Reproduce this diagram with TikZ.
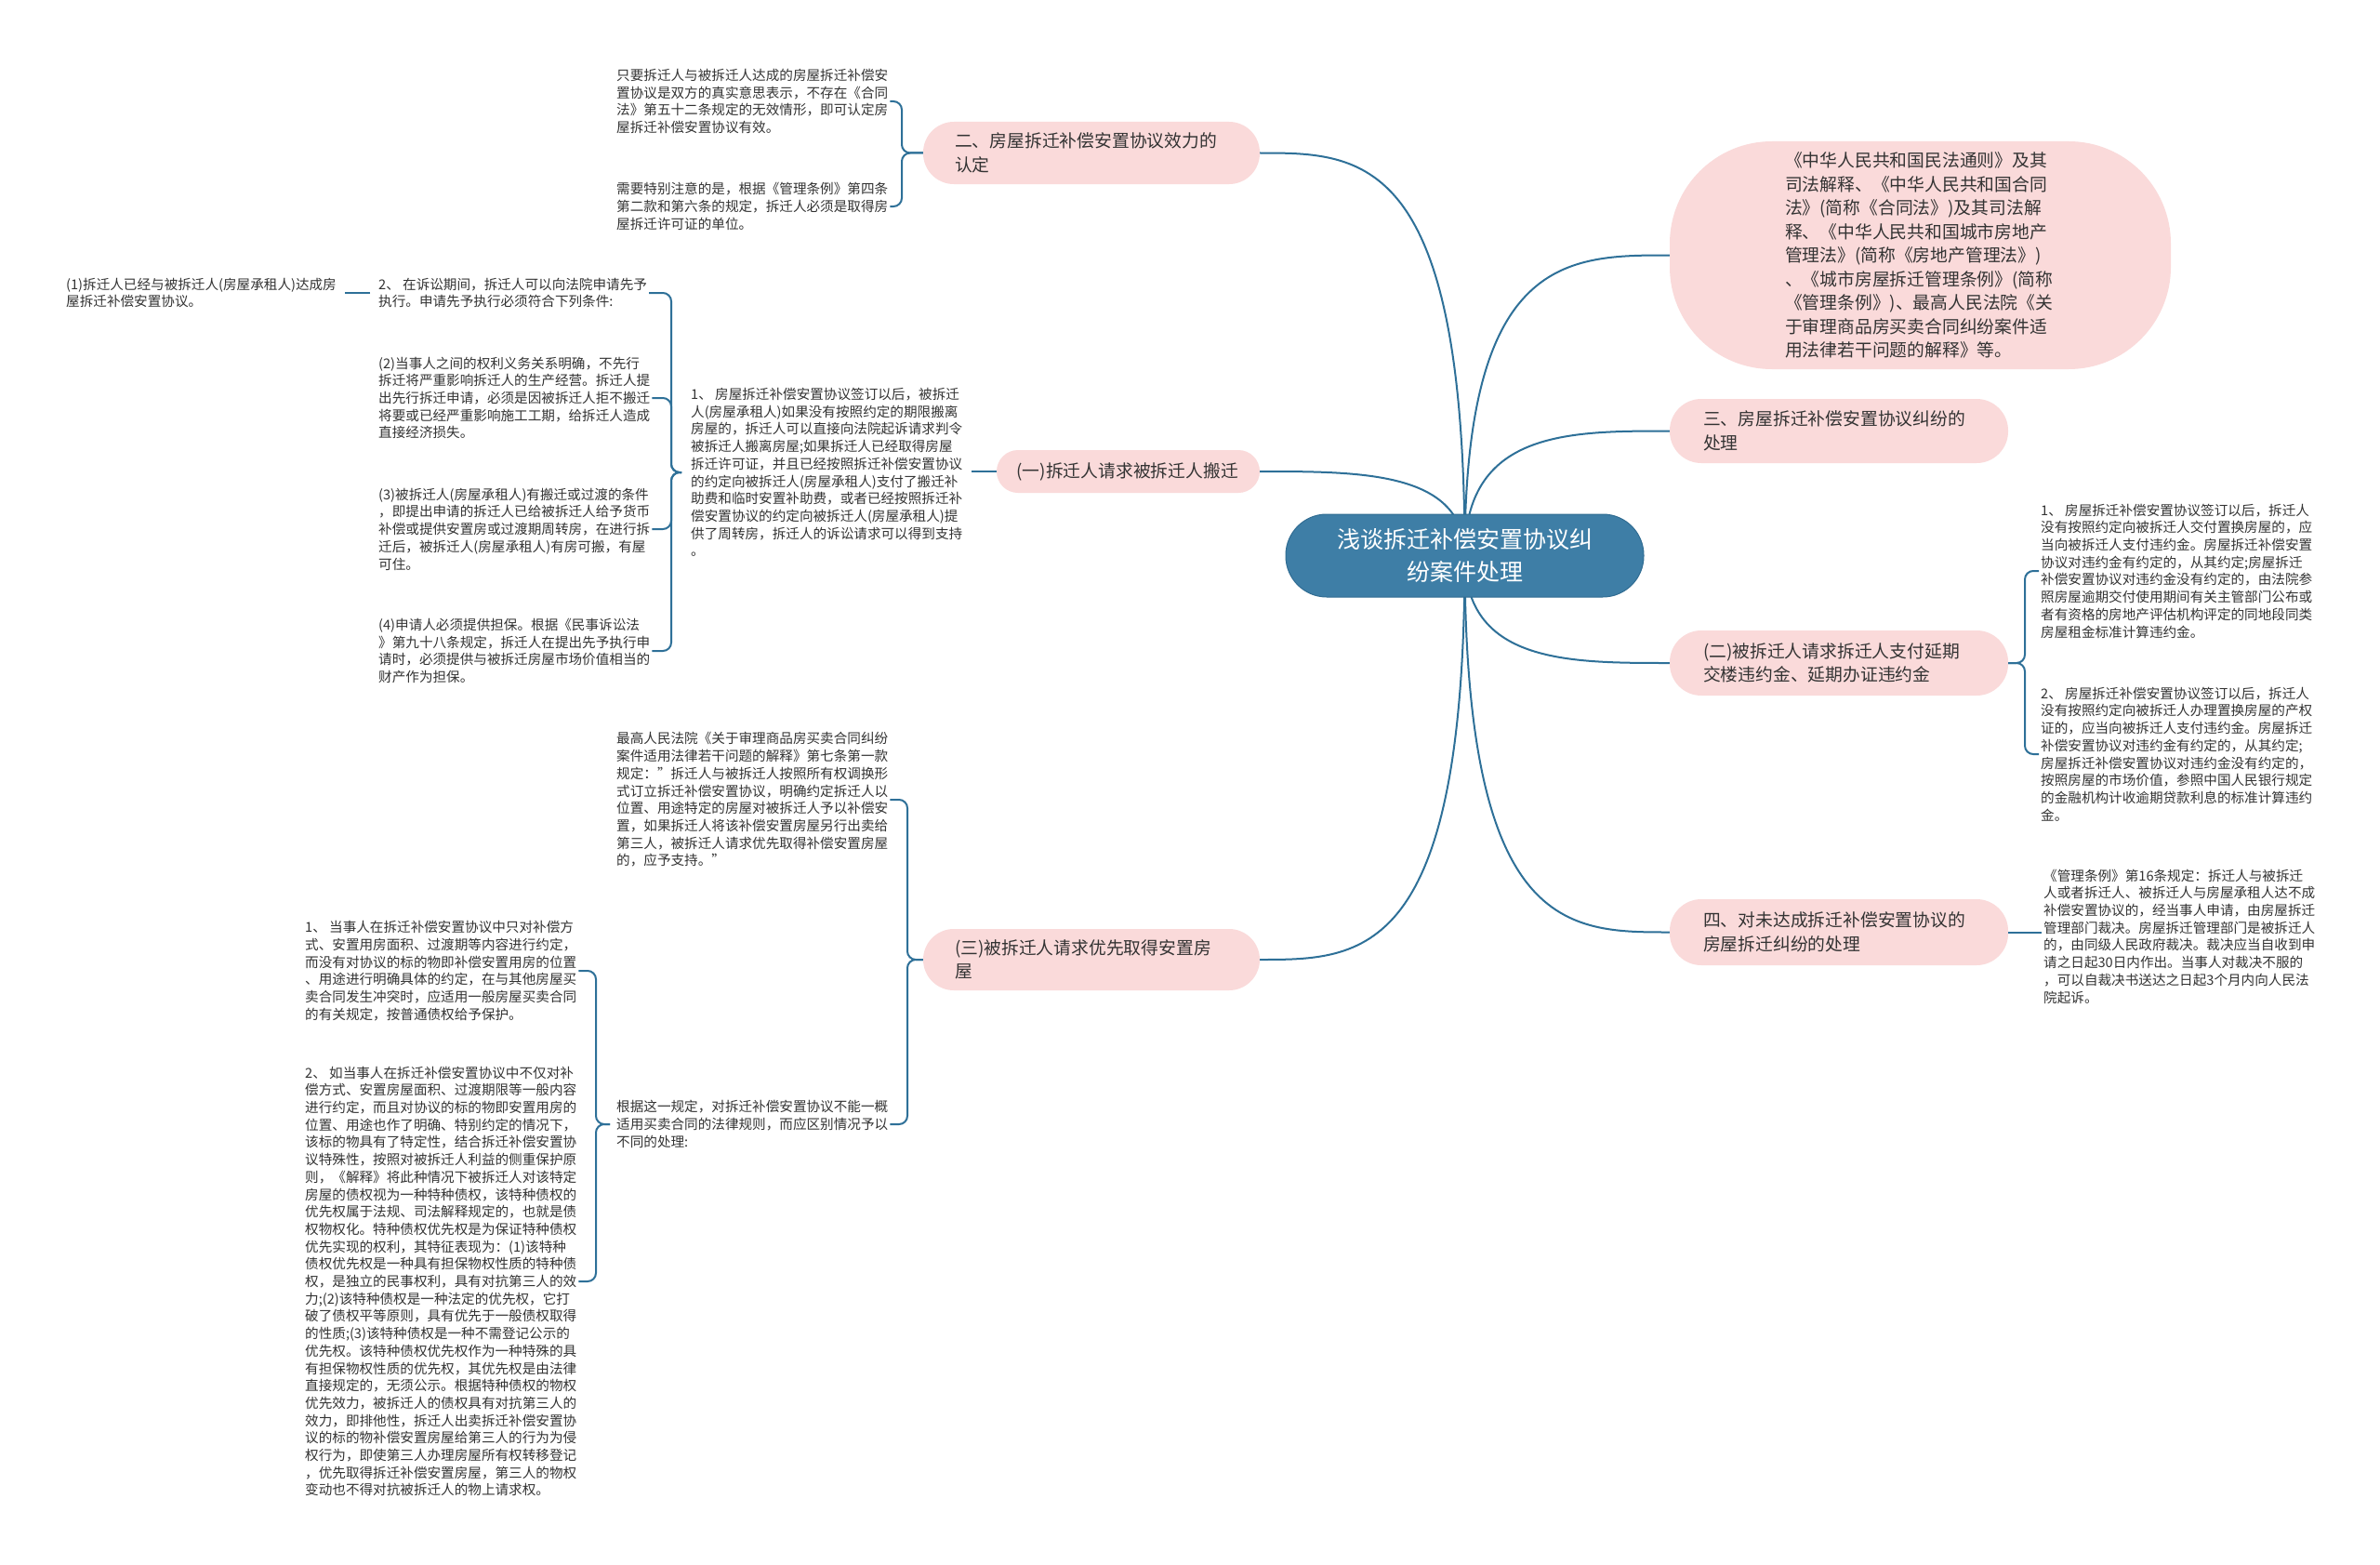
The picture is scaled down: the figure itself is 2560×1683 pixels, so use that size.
\documentclass[tikz,border=0pt]{standalone}
\usepackage{fontspec}
\setmainfont{Noto Sans CJK SC}
\usetikzlibrary{calc,backgrounds}
\definecolor{linecol}{RGB}{46,112,152}
\definecolor{hubfill}{RGB}{62,126,166}
\definecolor{hubdraw}{RGB}{48,108,146}
\definecolor{pinkfill}{RGB}{250,218,218}
\definecolor{txt}{RGB}{51,51,51}
\begin{document}
\begin{tikzpicture}[x=1pt,y=-1pt,
  conn/.style={draw=linecol, line width=2pt},
  brk/.style={conn, rounded corners=9pt},
  leaf/.style={font=\fontsize{14.6pt}{18.7pt}\selectfont, text=txt, align=left, inner xsep=2pt, inner ysep=0pt, anchor=west},
  pill/.style={fill=pinkfill, text=txt, font=\fontsize{18.8pt}{25.5pt}\selectfont, align=left, inner sep=0pt},
  hub/.style={fill=hubfill, draw=hubdraw, line width=1pt, text=white, font=\fontsize{25pt}{35pt}\selectfont, align=center, inner sep=0pt, minimum width=385pt, minimum height=89pt, rounded corners=44pt}
]
\useasboundingbox (0,0) rectangle (2560,1683);

% central topic
\node[hub] (hub) at (1575.5,597.5) {浅谈拆迁补偿安置协议纠\\纷案件处理};

% left main branches
\node[pill, minimum width=362pt, minimum height=67pt, text width=294pt, rounded corners=33pt] (b2) at (1174,164.5) {二、房屋拆迁补偿安置协议效力的\\认定};
\node[pill, minimum width=283pt, minimum height=46pt, text width=240pt, rounded corners=23pt] (b1) at (1213.5,507) {(一)拆迁人请求被拆迁人搬迁};
\node[pill, minimum width=362pt, minimum height=66pt, text width=294pt, rounded corners=33pt] (b3) at (1174,1032) {(三)被拆迁人请求优先取得安置房\\屋};

% right main branches
\node[pill, minimum width=539pt, minimum height=245pt, text width=291pt, rounded corners=110pt] (law) at (2065.5,274.5) {《中华人民共和国民法通则》及其\\司法解释、《中华人民共和国合同\\法》(简称《合同法》)及其司法解\\释、《中华人民共和国城市房地产\\管理法》(简称《房地产管理法》)\\、《城市房屋拆迁管理条例》(简称\\《管理条例》)、最高人民法院《关\\于审理商品房买卖合同纠纷案件适\\用法律若干问题的解释》等。};
\node[pill, minimum width=364pt, minimum height=69pt, text width=292pt, rounded corners=34pt] (b3r) at (1978,463.5) {三、房屋拆迁补偿安置协议纠纷的\\处理};
\node[pill, minimum width=364pt, minimum height=70pt, text width=292pt, rounded corners=34pt] (b22) at (1978,713) {(二)被拆迁人请求拆迁人支付延期\\交楼违约金、延期办证违约金};
\node[pill, minimum width=364pt, minimum height=71pt, text width=292pt, rounded corners=34pt] (b4) at (1978,1002.5) {四、对未达成拆迁补偿安置协议的\\房屋拆迁纠纷的处理};

% leaves of 二
\node[leaf] (L7) at (661,109) {只要拆迁人与被拆迁人达成的房屋拆迁补偿安\\置协议是双方的真实意思表示，不存在《合同\\法》第五十二条规定的无效情形，即可认定房\\屋拆迁补偿安置协议有效。};
\node[leaf] (L8) at (661,222) {需要特别注意的是，根据《管理条例》第四条\\第二款和第六条的规定，拆迁人必须是取得房\\屋拆迁许可证的单位。};

% leaves of (一)
\node[leaf] (L6) at (741,508) {1、 房屋拆迁补偿安置协议签订以后，被拆迁\\人(房屋承租人)如果没有按照约定的期限搬离\\房屋的，拆迁人可以直接向法院起诉请求判令\\被拆迁人搬离房屋;如果拆迁人已经取得房屋\\拆迁许可证，并且已经按照拆迁补偿安置协议\\的约定向被拆迁人(房屋承租人)支付了搬迁补\\助费和临时安置补助费，或者已经按照拆迁补\\偿安置协议的约定向被拆迁人(房屋承租人)提\\供了周转房，拆迁人的诉讼请求可以得到支持\\。};
\node[leaf] (L2) at (405,315) {2、 在诉讼期间，拆迁人可以向法院申请先予\\执行。申请先予执行必须符合下列条件:};
\node[leaf] (L1) at (69,315) {(1)拆迁人已经与被拆迁人(房屋承租人)达成房\\屋拆迁补偿安置协议。};
\node[leaf] (L3) at (405,428) {(2)当事人之间的权利义务关系明确，不先行\\拆迁将严重影响拆迁人的生产经营。拆迁人提\\出先行拆迁申请，必须是因被拆迁人拒不搬迁\\将要或已经严重影响施工工期，给拆迁人造成\\直接经济损失。};
\node[leaf] (L4) at (405,569) {(3)被拆迁人(房屋承租人)有搬迁或过渡的条件\\，即提出申请的拆迁人已给被拆迁人给予货币\\补偿或提供安置房或过渡期周转房，在进行拆\\迁后，被拆迁人(房屋承租人)有房可搬，有屋\\可住。};
\node[leaf] (L5) at (405,700) {(4)申请人必须提供担保。根据《民事诉讼法\\》第九十八条规定，拆迁人在提出先予执行申\\请时，必须提供与被拆迁房屋市场价值相当的\\财产作为担保。};

% leaves of (三)
\node[leaf] (L9) at (661,860) {最高人民法院《关于审理商品房买卖合同纠纷\\案件适用法律若干问题的解释》第七条第一款\\规定："拆迁人与被拆迁人按照所有权调换形\\式订立拆迁补偿安置协议，明确约定拆迁人以\\位置、用途特定的房屋对被拆迁人予以补偿安\\置，如果拆迁人将该补偿安置房屋另行出卖给\\第三人，被拆迁人请求优先取得补偿安置房屋\\的，应予支持。"};
\node[leaf] (L10) at (661,1209) {根据这一规定，对拆迁补偿安置协议不能一概\\适用买卖合同的法律规则，而应区别情况予以\\不同的处理:};
\node[leaf] (L11) at (326,1044) {1、 当事人在拆迁补偿安置协议中只对补偿方\\式、安置用房面积、过渡期等内容进行约定，\\而没有对协议的标的物即补偿安置用房的位置\\、用途进行明确具体的约定，在与其他房屋买\\卖合同发生冲突时，应适用一般房屋买卖合同\\的有关规定，按普通债权给予保护。};
\node[leaf] (L12) at (326,1378) {2、 如当事人在拆迁补偿安置协议中不仅对补\\偿方式、安置房屋面积、过渡期限等一般内容\\进行约定，而且对协议的标的物即安置用房的\\位置、用途也作了明确、特别约定的情况下，\\该标的物具有了特定性，结合拆迁补偿安置协\\议特殊性，按照对被拆迁人利益的侧重保护原\\则，《解释》将此种情况下被拆迁人对该特定\\房屋的债权视为一种特种债权，该特种债权的\\优先权属于法规、司法解释规定的，也就是债\\权物权化。特种债权优先权是为保证特种债权\\优先实现的权利，其特征表现为：(1)该特种\\债权优先权是一种具有担保物权性质的特种债\\权，是独立的民事权利，具有对抗第三人的效\\力;(2)该特种债权是一种法定的优先权，它打\\破了债权平等原则，具有优先于一般债权取得\\的性质;(3)该特种债权是一种不需登记公示的\\优先权。该特种债权优先权作为一种特殊的具\\有担保物权性质的优先权，其优先权是由法律\\直接规定的，无须公示。根据特种债权的物权\\优先效力，被拆迁人的债权具有对抗第三人的\\效力，即排他性，拆迁人出卖拆迁补偿安置协\\议的标的物补偿安置房屋给第三人的行为为侵\\权行为，即使第三人办理房屋所有权转移登记\\，优先取得拆迁补偿安置房屋，第三人的物权\\变动也不得对抗被拆迁人的物上请求权。};

% leaves of right side
\node[leaf] (R1) at (2193,614) {1、 房屋拆迁补偿安置协议签订以后，拆迁人\\没有按照约定向被拆迁人交付置换房屋的，应\\当向被拆迁人支付违约金。房屋拆迁补偿安置\\协议对违约金有约定的，从其约定;房屋拆迁\\补偿安置协议对违约金没有约定的，由法院参\\照房屋逾期交付使用期间有关主管部门公布或\\者有资格的房地产评估机构评定的同地段同类\\房屋租金标准计算违约金。};
\node[leaf] (R2) at (2193,811) {2、 房屋拆迁补偿安置协议签订以后，拆迁人\\没有按照约定向被拆迁人办理置换房屋的产权\\证的，应当向被拆迁人支付违约金。房屋拆迁\\补偿安置协议对违约金有约定的，从其约定;\\房屋拆迁补偿安置协议对违约金没有约定的，\\按照房屋的市场价值，参照中国人民银行规定\\的金融机构计收逾期贷款利息的标准计算违约\\金。};
\node[leaf] (R3) at (2196,1007) {《管理条例》第16条规定：拆迁人与被拆迁\\人或者拆迁人、被拆迁人与房屋承租人达不成\\补偿安置协议的，经当事人申请，由房屋拆迁\\管理部门裁决。房屋拆迁管理部门是被拆迁人\\的，由同级人民政府裁决。裁决应当自收到申\\请之日起30日内作出。当事人对裁决不服的\\，可以自裁决书送达之日起3个月内向人民法\\院起诉。};

% bracket joints
\coordinate (ja) at (970,164.5);
\coordinate (jb) at (722,508);
\coordinate (jc) at (976,1032);
\coordinate (jd) at (641,1209);
\coordinate (je) at (2178,713);

\begin{scope}[on background layer]
\fill[white] (0,0) rectangle (2560,1683);
% hub curves
\foreach \t in {b2,b1,b3}{
  \draw[conn] (hub.center) .. controls (hub.center |- \t.east) and ($(hub.center |- \t.east)!0.5!(\t.east)$) .. (\t.east);
}
\foreach \t in {law,b3r,b22,b4}{
  \draw[conn] (hub.center) .. controls (hub.center |- \t.west) and ($(hub.center |- \t.west)!0.5!(\t.west)$) .. (\t.west);
}
\end{scope}

% brackets
\draw[brk] (b2.west) -- (ja) |- (L7.east);
\draw[brk] (b2.west) -- (ja) |- (L8.east);
\draw[conn, shorten >=8pt] (b1.west) -- (b1.west -| L6.east);
\draw[brk, shorten <=8pt] (L6.west) -- (jb) |- (L2.east);
\draw[brk, shorten <=8pt] (L6.west) -- (jb) |- (L3.east);
\draw[brk, shorten <=8pt] (L6.west) -- (jb) |- (L4.east);
\draw[brk, shorten <=8pt] (L6.west) -- (jb) |- (L5.east);
\draw[conn, shorten <=7pt, shorten >=7pt] (L2.west) -- (L2.west -| L1.east);
\draw[brk] (b3.west) -- (jc) |- (L9.east);
\draw[brk] (b3.west) -- (jc) |- (L10.east);
\draw[brk, shorten <=5pt] (L10.west) -- (jd) |- (L11.east);
\draw[brk, shorten <=5pt] (L10.west) -- (jd) |- (L12.east);
\draw[brk] (b22.east) -- (je) |- (R1.west);
\draw[brk] (b22.east) -- (je) |- (R2.west);
\draw[conn] (b4.east) -- (b4.east -| R3.west);
\end{tikzpicture}
\end{document}
